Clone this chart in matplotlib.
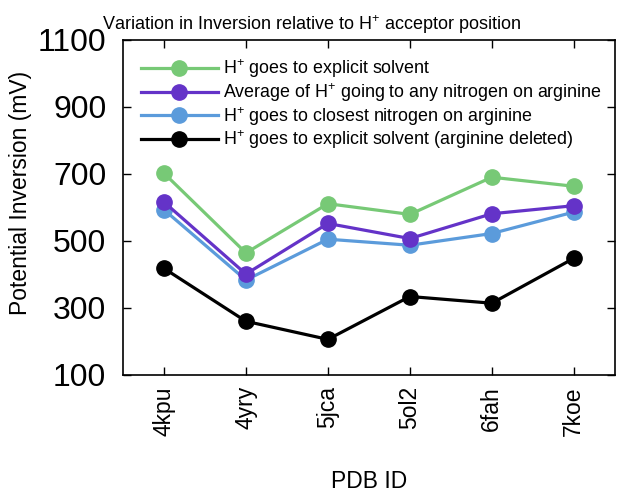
import matplotlib
matplotlib.use("Agg")
import matplotlib.pyplot as plt

plt.rcParams['font.family'] = ['Liberation Sans', 'DejaVu Sans']
plt.rcParams['mathtext.fontset'] = 'custom'
plt.rcParams['mathtext.rm'] = 'Liberation Sans'
plt.rcParams['mathtext.it'] = 'Liberation Sans'

# data
pdb_ids = ['4kpu', '4yry', '5jca', '5ol2', '6fah', '7koe']
explicit_solvent = [702, 464, 611, 579, 690, 663]
avg_any_nitrogen = [616, 401, 552, 507, 581, 605]
closest_nitrogen = [593, 383, 505, 487, 522, 586]
arg_deleted = [418, 260, 206, 334, 314, 448]

y_ticks = [100, 300, 500, 700, 900, 1100]

fig = plt.figure(figsize=(6.21, 4.92), dpi=100)
ax = fig.add_axes([0.198, 0.238, 0.792, 0.681])

x = list(range(len(pdb_ids)))
kw = dict(marker='o', markersize=11, linewidth=2.3)
ax.plot(x, arg_deleted, color='#000000', zorder=3,
        label='H$^{+}$ goes to explicit solvent (arginine deleted)', **kw)
ax.plot(x, closest_nitrogen, color='#5b9bdb', zorder=4,
        label='H$^{+}$ goes to closest nitrogen on arginine', **kw)
ax.plot(x, avg_any_nitrogen, color='#6433c8', zorder=5,
        label='Average of H$^{+}$ going to any nitrogen on arginine', **kw)
ax.plot(x, explicit_solvent, color='#77c976', zorder=6,
        label='H$^{+}$ goes to explicit solvent', **kw)

ax.set_xlim(-0.5, 5.5)
ax.set_ylim(100, 1100)
ax.set_xticks(x)
ax.set_xticklabels(pdb_ids, rotation=90, fontsize=16.5)
ax.set_yticks(y_ticks)
ax.tick_params(direction='in', length=6, width=1, top=True, right=True)
ax.tick_params(axis='x', pad=8)
ax.tick_params(axis='y', labelsize=23, pad=12)
for s in ax.spines.values():
    s.set_linewidth(1.2)

ax.set_xlabel('PDB ID', fontsize=16.5, labelpad=25)
ax.set_ylabel('Potential Inversion (mV)', fontsize=16.5)
ax.yaxis.set_label_coords(-0.185, 0.543)
fig.text(0.502, 0.949, 'Variation in Inversion relative to H$^{+}$ acceptor position',
         fontsize=13, ha='center', va='center')

h, l = ax.get_legend_handles_labels()
ax.legend(h[::-1], l[::-1], loc='upper left', frameon=False, fontsize=12.9,
          handlelength=4.3, handletextpad=0.28, labelspacing=0.05,
          borderaxespad=0.6, bbox_to_anchor=(0.0, 1.0))

fig.savefig('out.png', dpi=100)
